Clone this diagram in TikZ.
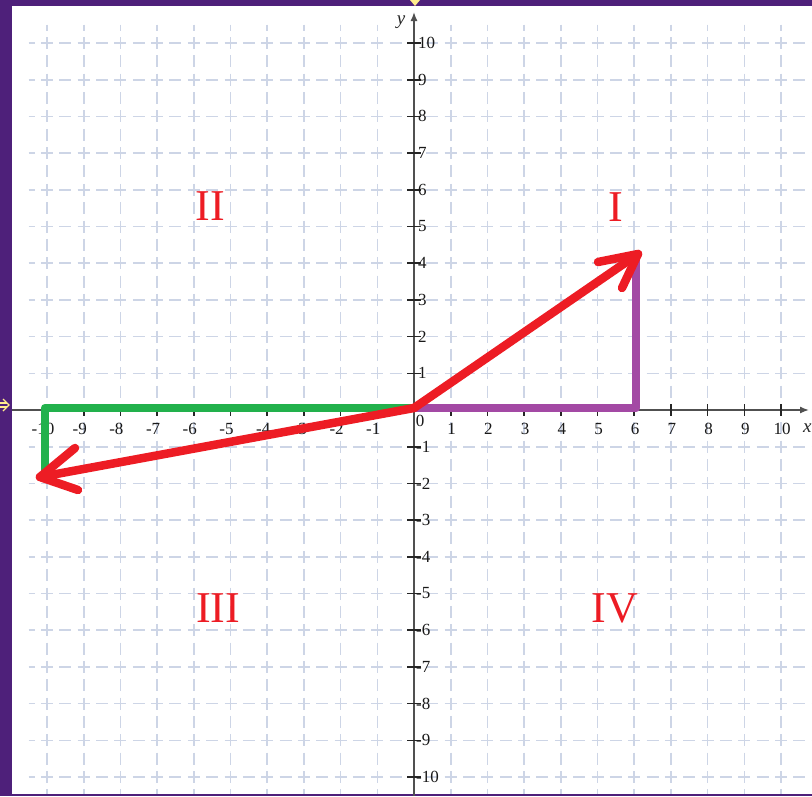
\documentclass[tikz,border=0pt]{standalone}
\usepackage{fontspec}
\setmainfont{Liberation Serif}
\usetikzlibrary{arrows.meta}
\definecolor{bgpurple}{RGB}{78,32,122}
\definecolor{gridc}{RGB}{205,213,230}
\definecolor{axisc}{RGB}{80,80,80}
\definecolor{paintred}{RGB}{237,28,36}
\definecolor{paintgreen}{RGB}{34,177,76}
\definecolor{paintpurple}{RGB}{163,73,164}
\definecolor{markyellow}{RGB}{255,236,140}
\tikzset{
  gridline/.style={gridc, line width=1.6pt, dash pattern=on 12pt off 6.35pt, dash phase=6pt},
  axisline/.style={axisc, line width=1.4pt},
  tickmark/.style={black!85, line width=1.6pt},
  ticklabel/.style={font=\fontsize{17}{17}\selectfont, text=black!90, inner sep=0pt},
  quadlabel/.style={font=\fontsize{44}{44}\selectfont, text=paintred, inner sep=0pt},
  paint/.style={line width=8.5pt, line cap=round, line join=round},
}
\begin{document}
\begin{tikzpicture}[x=1pt,y=-1pt]
\useasboundingbox (0,0) rectangle (812,796);
\fill[bgpurple] (0,0) rectangle (812,796);
\fill[white] (12,6) rectangle (812,794);
% grid
\foreach \j in {-10,...,10}{
  \draw[gridline] ({414-10.5*36.7},{410-\j*36.7}) -- (812,{410-\j*36.7});
}
\foreach \i in {-10,...,10}{
  \draw[gridline] ({414+\i*36.7},{410-10.5*36.7}) -- ({414+\i*36.7},794);
}
% axes
\coordinate (xl) at (12,410);
\coordinate (xr) at (809,410);
\coordinate (yb) at (414,796);
\coordinate (yt) at (414,12);
\draw[axisline,-{Latex[length=9pt,width=7pt]}] (xl) -- (xr);
\draw[axisline,-{Latex[length=9pt,width=7pt]}] (yb) -- (yt);
\node[font=\itshape\fontsize{19}{19}\selectfont, text=black!85] (ylab) at (401,22) {y};
\node[font=\itshape\fontsize{19}{19}\selectfont, text=black!85, anchor=west, inner sep=0pt] (xlab) at (803,428) {x};
% ticks and labels
\foreach \i in {1,...,10}{
  \draw[tickmark] ({414+\i*36.7},404) -- ({414+\i*36.7},416);
  \draw[tickmark] ({414-\i*36.7},404) -- ({414-\i*36.7},416);
  \draw[tickmark] (407,{410-\i*36.7}) -- (421,{410-\i*36.7});
  \draw[tickmark] (407,{410+\i*36.7}) -- (421,{410+\i*36.7});
  \node[ticklabel] (xp\i) at ({415+\i*36.7},429) {\i};
  \node[ticklabel] (xn\i) at ({410-\i*36.7},429) {-\i};
  \node[ticklabel, anchor=west] (yp\i) at (418,{410-\i*36.7}) {\i};
  \node[ticklabel, anchor=west] (yn\i) at (416,{410+\i*36.7}) {-\i};
}
\node[ticklabel] (zero) at (420,421) {0};
% quadrant labels
\node[quadlabel] (qI) at (616,207) {I};
\node[quadlabel] (qII) at (210,206) {II};
\node[quadlabel] (qIII) at (218,608) {III};
\node[quadlabel] (qIV) at (615,608) {IV};
% painted components
\coordinate (O) at (414,408);
\coordinate (G) at (45,408);
\coordinate (A) at (638,254);
\coordinate (B) at (40,477);
\coordinate (P) at (636,408);
\draw[paint, paintgreen] (O) -- (G) -- (45,477);
\draw[paint, paintpurple] (O) -- (P) -- (636,260);
\draw[paint, paintred] (O) -- (A);
\draw[paint, paintred] (598,262) -- (A) -- (622,288);
\draw[paint, paintred] (O) -- (B);
\draw[paint, paintred] (75,448) -- (B) -- (78,490);
% yellow handle marks
\fill[markyellow] (410,0) -- (420,0) -- (415,6) -- cycle;
\draw[markyellow, line width=1.2pt] (0,403) -- (7,403);
\draw[markyellow, line width=1.2pt] (0,407) -- (7,407);
\draw[markyellow, line width=1.2pt] (3,399) -- (9,405) -- (3,411);
\end{tikzpicture}
\end{document}
